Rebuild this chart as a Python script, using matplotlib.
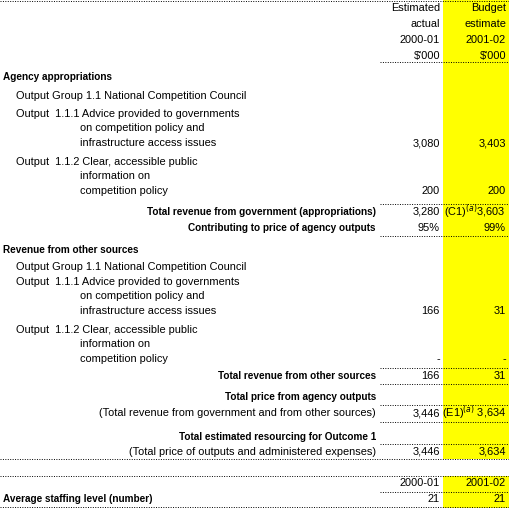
import matplotlib
matplotlib.use("Agg")
import matplotlib.pyplot as plt

plt.rcParams['font.family'] = ['Liberation Sans', 'DejaVu Sans']
FS = 7.9
FSB = 7.2

header_col1 = ["Estimated", "actual", "2000-01", "$'000"]
header_col2 = ["Budget", "estimate", "2001-02", "$'000"]

# (y, text, x, align, bold)
labels = [
    (77, "Agency appropriations", 3, "left", True),
    (96, "Output Group 1.1 National Competition Council", 16, "left", False),
    (114, "Output  1.1.1 Advice provided to governments", 16, "left", False),
    (128, "on competition policy and", 80, "left", False),
    (143, "infrastructure access issues", 80, "left", False),
    (162, "Output  1.1.2 Clear, accessible public", 16, "left", False),
    (176, "information on", 80, "left", False),
    (191, "competition policy", 80, "left", False),
    (212, "Total revenue from government (appropriations)", 376, "right", True),
    (228, "Contributing to price of agency outputs", 376, "right", True),
    (250, "Revenue from other sources", 3, "left", True),
    (267, "Output Group 1.1 National Competition Council", 16, "left", False),
    (282, "Output  1.1.1 Advice provided to governments", 16, "left", False),
    (296, "on competition policy and", 80, "left", False),
    (311, "infrastructure access issues", 80, "left", False),
    (330, "Output  1.1.2 Clear, accessible public", 16, "left", False),
    (344, "information on", 80, "left", False),
    (359, "competition policy", 80, "left", False),
    (376, "Total revenue from other sources", 376, "right", True),
    (397, "Total price from agency outputs", 376, "right", True),
    (413, "(Total revenue from government and from other sources)", 376, "right", False),
    (437, "Total estimated resourcing for Outcome 1", 376, "right", True),
    (452, "(Total price of outputs and administered expenses)", 376, "right", False),
    (499, "Average staffing level (number)", 3, "left", True),
]

# (y, estimated actual 2000-01, budget estimate 2001-02)
values = [
    (143, "3,080", "3,403"),
    (191, "200", "200"),
    (212, "3,280", "(C1)$^{(a)}$3,603"),
    (228, "95%", "99%"),
    (311, "166", "31"),
    (359, "-", "-"),
    (376, "166", "31"),
    (413, "3,446", "(E1)$^{(a)}$ 3,634"),
    (452, "3,446", "3,634"),
    (483, "2000-01", "2001-02"),
    (499, "21", "21"),
]

# (y, x start)
lines = [(1, 0), (62, 380), (204, 380), (236, 380), (368, 380), (384, 380),
         (405, 380), (422, 380), (444, 380), (459, 0), (476, 0), (492, 380), (507, 0)]

fig = plt.figure(figsize=(5.10, 5.08), dpi=100)
ax = fig.add_axes([0, 0, 1, 1])
ax.set_xlim(0, 510)
ax.set_ylim(508, 0)
ax.axis('off')

yellow = "#ffff00"
ax.add_patch(plt.Rectangle((443, 0), 67, 459, color=yellow, lw=0))
ax.add_patch(plt.Rectangle((443, 476), 67, 32, color=yellow, lw=0))

for i, (a, b) in enumerate(zip(header_col1, header_col2)):
    y = 8 + 16 * i
    ax.text(440, y, a, ha='right', va='center', fontsize=FS)
    ax.text(506, y, b, ha='right', va='center', fontsize=FS)

for y, t, x, al, b in labels:
    ax.text(x, y, t, ha=al, va='center', fontsize=FSB if b else FS,
            fontweight='bold' if b else 'normal')

for y, a, b in values:
    ax.text(440, y, a, ha='right', va='center', fontsize=FS)
    ax.text(506, y, b, ha='right', va='center', fontsize=FS)

for y, x0 in lines:
    ax.plot([x0, 510], [y, y], color='black', lw=0.7, ls=(0, (1, 1.5)))

fig.savefig("out.png", dpi=100)
